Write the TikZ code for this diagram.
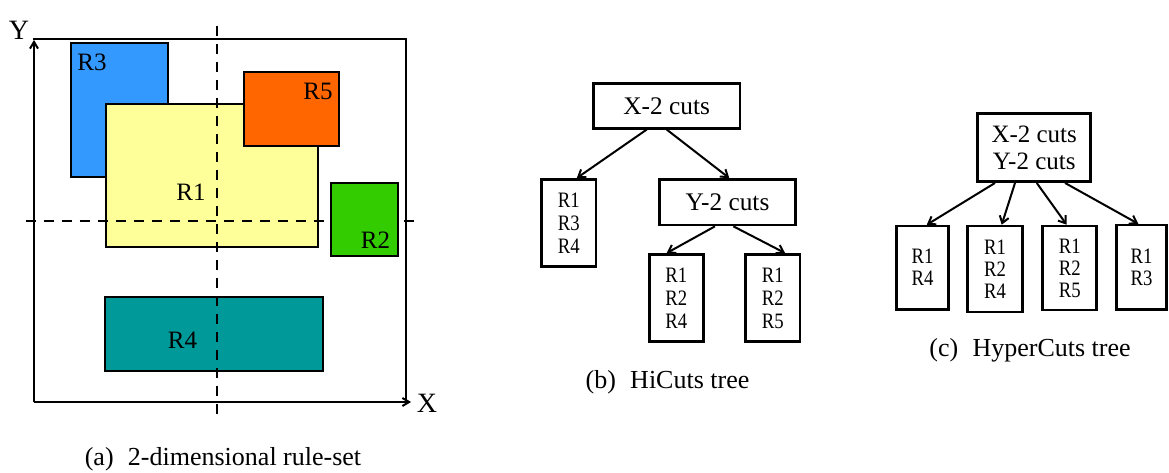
\documentclass[tikz,border=0pt]{standalone}
\usepackage{fontspec}
\setmainfont{Liberation Serif}
\newfontfamily\leaffont[FakeStretch=0.85]{Liberation Serif}
\usetikzlibrary{arrows.meta}

\definecolor{rblue}{HTML}{3399FF}
\definecolor{ryellow}{HTML}{FFFF99}
\definecolor{rorange}{HTML}{FF6600}
\definecolor{rgreen}{HTML}{33CC00}
\definecolor{rteal}{HTML}{009999}

\tikzset{
  rulebox/.style={draw=black, line width=1.5pt},
  rulelabel/.style={font=\fontsize{18.75pt}{22pt}\selectfont, anchor=base, inner sep=0pt},
  axislabel/.style={font=\fontsize{21pt}{24pt}\selectfont, anchor=base, inner sep=0pt},
  axis/.style={line width=1.5pt, -{Straight Barb[length=5pt,width=6pt]}},
  frame/.style={line width=1.1pt},
  cutline/.style={line width=1.4pt, dash pattern=on 7.5pt off 6pt},
  caption/.style={font=\fontsize{19.5pt}{22pt}\selectfont, anchor=base, inner sep=0pt},
  cutbox/.style={draw, line width=1.9pt, inner sep=0pt, align=center,
                 font=\fontsize{19pt}{20.25pt}\selectfont},
  leafb/.style={draw, line width=1.9pt, inner sep=0pt, align=center,
                font=\leaffont\fontsize{16.5pt}{17.25pt}\selectfont},
  leafc/.style={draw, line width=1.9pt, inner sep=0pt, align=center,
                font=\leaffont\fontsize{16.5pt}{16.5pt}\selectfont},
  rootc/.style={draw, line width=1.9pt, inner sep=0pt, align=center,
                font=\fontsize{18.75pt}{20.25pt}\selectfont},
  treearrow/.style={line width=1.5pt, -{Straight Barb[length=5pt,width=7pt]}}
}

\begin{document}
\begin{tikzpicture}[x=0.75pt,y=-0.75pt]
\useasboundingbox (0,0) rectangle (1169,473);

% ---------- (a) rule-set in the X-Y plane ----------
\coordinate (origin) at (34,402);
\coordinate (yend) at (34,40);
\coordinate (xend) at (411,402);
\coordinate (ftl) at (33,39);
\coordinate (ftr) at (406,39);
\coordinate (fbr) at (406,402);

\draw[frame] (ftl) -- (ftr) -- (fbr);
\draw[axis] (origin) -- (yend);
\draw[axis] (origin) -- (xend);
\node[axislabel] (ylab) at (19,40) {Y};
\node[axislabel] (xlab) at (427,412) {X};

\draw[rulebox, fill=rblue]   (70.7,42.7) rectangle (168.3,177.3);
\draw[rulebox, fill=ryellow] (105.7,104.3) rectangle (318.3,246.7);
\draw[rulebox, fill=rorange] (243.7,72.3) rectangle (339,146);
\draw[rulebox, fill=rteal]   (104.7,297.3) rectangle (323.3,370.7);

\coordinate (vtop) at (216.7,26);
\coordinate (vbot) at (216.7,418);
\coordinate (hleft) at (25.7,220.7);
\coordinate (hright) at (416,220.7);
\draw[cutline] (vtop) -- (vbot);
\draw[cutline] (hleft) -- (hright);

\draw[rulebox, fill=rgreen]  (330.7,182.7) rectangle (398.3,256);

\node[rulelabel] (r3) at (92,70.7) {R3};
\node[rulelabel] (r5) at (318,100) {R5};
\node[rulelabel] (r1) at (191,200.7) {R1};
\node[rulelabel] (r2) at (375.5,249) {R2};
\node[rulelabel] (r4) at (182.5,348.3) {R4};

\node[caption] (capa) at (223,465) {(a)\hspace{0.3em} 2-dimensional rule-set};

% ---------- (b) HiCuts tree ----------
\node[cutbox, minimum width=110pt, minimum height=33.75pt] (bx) at (666.7,105.8) {X-2 cuts};
\node[leafb, minimum width=40.7pt, minimum height=65.5pt] (bl1) at (568.8,223) {R1\\R3\\R4};
\node[cutbox, minimum width=102.3pt, minimum height=34.3pt] (by) at (727.5,202.2) {Y-2 cuts};
\node[leafb, minimum width=40.5pt, minimum height=65.5pt] (bl2) at (676.3,298) {R1\\R2\\R4};
\node[leafb, minimum width=40.7pt, minimum height=65.5pt] (bl3) at (772.8,298) {R1\\R2\\R5};

\draw[treearrow] ([xshift=-15pt]bx.south) -- ([xshift=6pt]bl1.north);
\draw[treearrow] (bx.south) -- ([xshift=1.3pt]by.north);
\draw[treearrow] ([xshift=-9.4pt]by.south) -- ([xshift=-7.2pt]bl2.north);
\draw[treearrow] ([xshift=4.4pt]by.south) -- ([xshift=9.2pt]bl3.north);

\node[caption] (capb) at (667.5,388.3) {(b)\hspace{0.3em} HiCuts tree};

% ---------- (c) HyperCuts tree ----------
\node[rootc, minimum width=84.75pt, minimum height=51.3pt] (cr) at (1034.2,147.5) {X-2 cuts\\Y-2 cuts};
\node[leafc, minimum width=38.7pt, minimum height=62.5pt] (cl1) at (922.5,267.7) {R1\\R4};
\node[leafc, minimum width=41.5pt, minimum height=64.5pt] (cl2) at (995,269) {R1\\R2\\R4};
\node[leafc, minimum width=40.5pt, minimum height=63pt] (cl3) at (1069.7,268) {R1\\R2\\R5};
\node[leafc, minimum width=37.4pt, minimum height=63.2pt] (cl4) at (1141.6,267.2) {R1\\R3};

\draw[treearrow] ([xshift=-29.4pt]cr.south) -- ([xshift=3.2pt]cl1.north);
\draw[treearrow] ([xshift=-14.4pt]cr.south) -- ([xshift=5pt]cl2.north);
\draw[treearrow] ([xshift=1.9pt]cr.south) -- ([xshift=-2.25pt]cl3.north);
\draw[treearrow] ([xshift=23.1pt]cr.south) -- ([xshift=-2.5pt]cl4.north);

\node[caption] (capc) at (1030,356.7) {(c)\hspace{0.3em} HyperCuts tree};
\end{tikzpicture}
\end{document}
